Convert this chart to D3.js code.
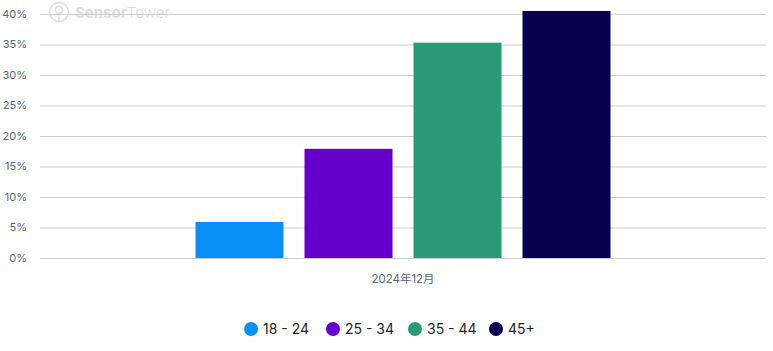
<!DOCTYPE html>
<html>
<head>
<meta charset="utf-8">
<script src="https://cdn.jsdelivr.net/npm/d3@7"></script>
<style>
  body { margin: 0; background: #fff; }
  svg { display: block; font-family: Inter, "Noto Sans", "Noto Sans CJK SC", sans-serif; }
</style>
</head>
<body>
<svg id="chart" width="773" height="351"></svg>
<script>
const categories = ["2024年12月"];
const seriesNames = ["18 - 24", "25 - 34", "35 - 44", "45+"];
const seriesColors = ["#0990F6", "#6500CC", "#2B9A77", "#06004F"];
const seriesValues = [5.9, 17.9, 35.3, 40.5];
const yTicks = [0, 5, 10, 15, 20, 25, 30, 35, 40];

const svg = d3.select("#chart");

const padL = 40, padR = 766, padT = 14, padB = 258;

const yScale = d3.scaleLinear([0, 40], [padB, padT]);

const x0 = d3.scaleBand(categories, [padL, padR]).paddingInner(0).paddingOuter(0.3326);
const x1 = d3.scaleBand(seriesNames, [0, x0.bandwidth()]).paddingInner(0.1927).paddingOuter(0.0963);

// watermark
const wm = svg.append("g").attr("opacity", 0.3);
wm.append("circle").attr("cx", 59).attr("cy", 12).attr("r", 9.5)
  .attr("fill", "none").attr("stroke", "#8a8f99").attr("stroke-width", 1.6);
wm.append("circle").attr("cx", 59).attr("cy", 10).attr("r", 3.5)
  .attr("fill", "none").attr("stroke", "#8a8f99").attr("stroke-width", 1.5);
wm.append("line").attr("x1", 59).attr("x2", 59).attr("y1", 13).attr("y2", 21)
  .attr("stroke", "#8a8f99").attr("stroke-width", 1.5);
wm.append("text").attr("x", 75).attr("y", 18).attr("font-size", 15).attr("fill", "#8a8f99")
  .html('<tspan font-weight="700">Sensor</tspan><tspan font-weight="300">Tower</tspan>');

// grid
const yGrid = d3.axisLeft(yScale).tickValues(yTicks).tickSize(-(padR - padL)).tickFormat("");
svg.append("g")
  .attr("class", "ygrid")
  .attr("transform", `translate(${padL},0)`)
  .call(yGrid)
  .call(g => g.select(".domain").remove())
  .call(g => g.selectAll("line").attr("stroke", "#c9cdd4"));

// y labels
svg.append("g")
  .selectAll("text")
  .data(yTicks)
  .enter()
  .append("text")
  .attr("x", 27)
  .attr("y", d => yScale(d))
  .attr("dy", "0.35em")
  .attr("text-anchor", "end")
  .attr("font-size", 11)
  .attr("fill", "#5b6579")
  .text(d => d + "%");

// bars
svg.append("g")
  .selectAll("rect")
  .data(seriesValues)
  .enter()
  .append("rect")
  .attr("x", (d, i) => x0(categories[0]) + x1(seriesNames[i]))
  .attr("y", d => yScale(d))
  .attr("width", x1.bandwidth())
  .attr("height", d => yScale(0) - yScale(d))
  .attr("fill", (d, i) => seriesColors[i]);

// x axis label
svg.append("text")
  .attr("x", x0(categories[0]) + x0.bandwidth() / 2)
  .attr("y", 283)
  .attr("text-anchor", "middle")
  .attr("font-size", 11.5)
  .attr("fill", "#5b6579")
  .text(categories[0]);

// legend
const legendX = [251, 333, 415, 496];
const legend = svg.append("g");
seriesNames.forEach((s, i) => {
  legend.append("circle")
    .attr("cx", legendX[i])
    .attr("cy", 329)
    .attr("r", 7)
    .attr("fill", seriesColors[i]);
  legend.append("text")
    .attr("x", legendX[i] + 12)
    .attr("y", 329)
    .attr("dy", "0.35em")
    .attr("font-size", 14)
    .attr("fill", "#1e1e2d")
    .text(s);
});
</script>
</body>
</html>
